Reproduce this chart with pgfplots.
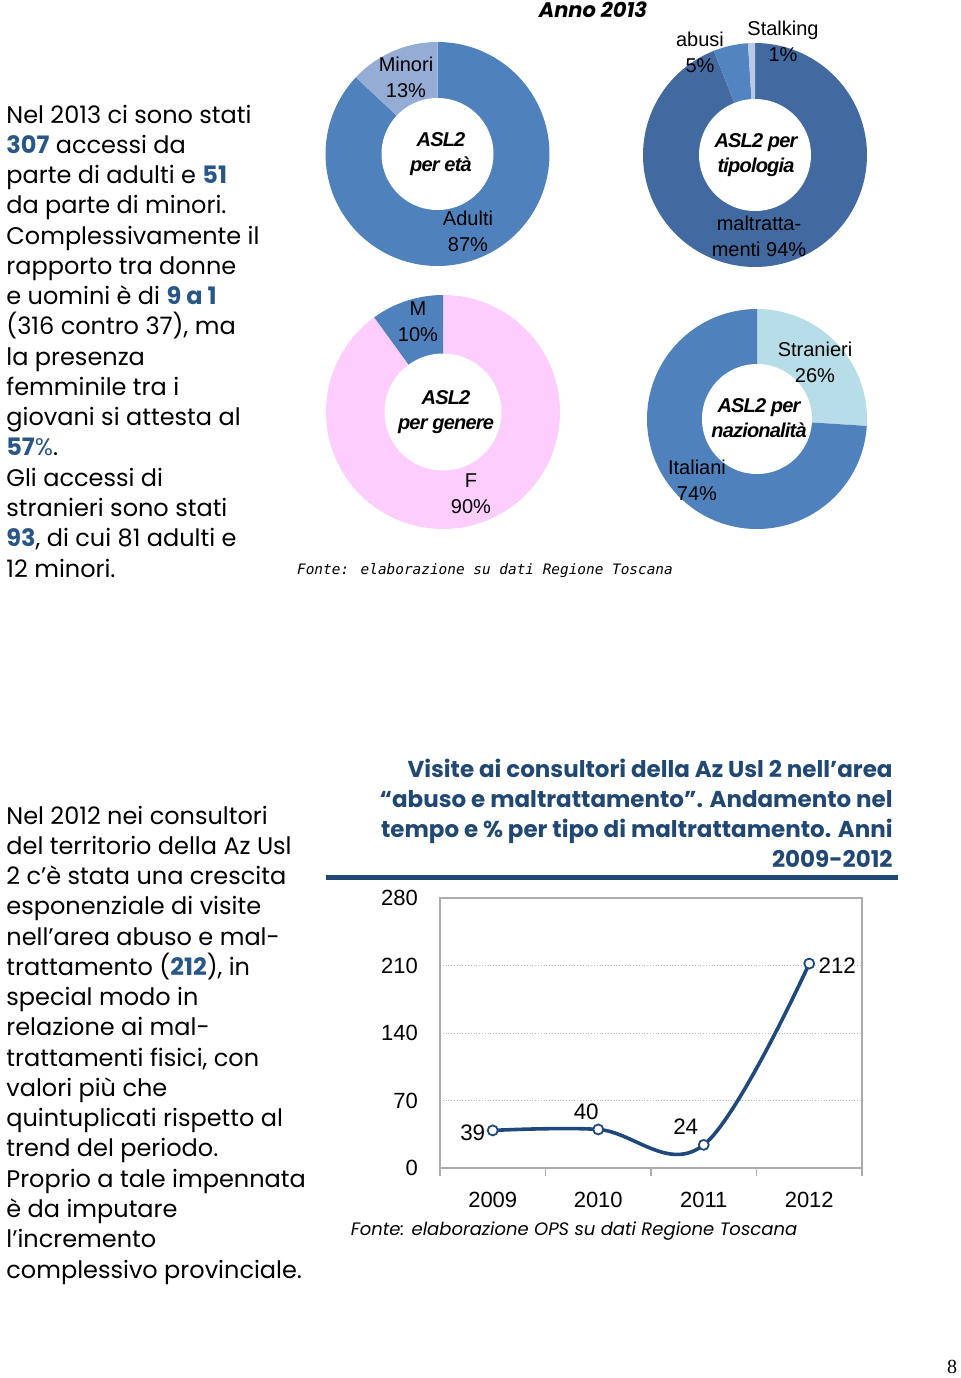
\documentclass[border=0pt]{standalone}
\usepackage{fontspec}
\usepackage{pgfplots}
\pgfplotsset{compat=1.18}
\setmainfont{Liberation Sans}
\newfontfamily\gothic{Poppins}
\newfontfamily\mono{DejaVu Sans Mono}
\newfontfamily\tight[LetterSpace=-4]{Liberation Sans}
\newfontfamily\serif{Liberation Serif}
\definecolor{numblue}{RGB}{40,86,134}
\definecolor{titleblue}{RGB}{33,72,115}
\definecolor{lineblue}{RGB}{31,73,125}
\definecolor{cA}{RGB}{79,129,189}
\definecolor{cMin}{RGB}{149,172,213}
\definecolor{cPink}{RGB}{253,205,253}
\definecolor{cMalt}{RGB}{66,106,160}
\definecolor{cAbu}{RGB}{82,132,192}
\definecolor{cSta}{RGB}{185,200,230}
\definecolor{cStr}{RGB}{183,221,232}
\newcommand\B[1]{\textbf{\color{numblue}#1}}
% slice between cumulative percentages #1 and #2 (clockwise from 12 o'clock)
\newcommand\slice[3]{%
  \pgfmathsetmacro\aA{90-3.6*#2}\pgfmathsetmacro\aB{90-3.6*#1}%
  \addplot[fill=#3,draw=none,domain=\aA:\aB,samples=150] ({cos(x)},{sin(x)}) -- (axis cs:0,0) -- cycle;}
\newcommand\hole{\addplot[fill=white,draw=none,domain=0:360,samples=150] ({0.5*cos(x)},{0.5*sin(x)});}
\pgfplotsset{donut/.style={anchor=center, hide axis, scale only axis, xmin=-1,xmax=1,ymin=-1,ymax=1, clip=false}}
\tikzset{lbl/.style={font=\fontsize{11.2}{13}\selectfont, inner sep=0}}
\begin{document}
\begin{tikzpicture}[x=0.5pt,y=0.5pt]
\useasboundingbox (0,0) rectangle (960,-1378);
% ---------- left paragraphs ----------
\begin{scope}[every node/.style={anchor=base west, inner sep=0, font=\gothic\fontsize{12}{15}\selectfont}]
\foreach \t [count=\i] in {{Nel 2013 ci sono stati},{\B{307} accessi da},{parte di adulti e \B{51}},{da parte di minori.},{Complessivamente il},{rapporto tra donne},{e uomini è di \B{9 a 1}},{(316 contro 37), ma},{la presenza},{femminile tra i},{giovani si attesta al},{\B{57}{\color{numblue}\%}.},{Gli accessi di},{stranieri sono stati},{\B{93}, di cui 81 adulti e},{12 minori.}}
  {\node at (6,{-(123+(\i-1)*30.27)}) {\t};}
\foreach \t [count=\i] in {{Nel 2012 nei consultori},{del territorio della Az Usl},{2 c’è stata una crescita},{esponenziale di visite},{nell’area abuso e mal-},{trattamento (\B{212}), in},{special modo in},{relazione ai mal-},{trattamenti fisici, con},{valori più che},{quintuplicati rispetto al},{trend del periodo.},{Proprio a tale impennata},{è da imputare},{l’incremento},{complessivo provinciale.}}
  {\node at (6,{-(824+(\i-1)*30.27)}) {\t};}
\end{scope}
% ---------- donuts (positions in pt = pixels/2) ----------
\begin{axis}[donut, at={(218.75pt,-77pt)}, width=112pt, height=112pt]
\slice{0}{87}{cA}
\slice{87}{100}{cMin}
\hole
\end{axis}
\begin{axis}[donut, at={(221.5pt,-206pt)}, width=117pt, height=117pt]
\slice{0}{90}{cPink}
\slice{90}{100}{cA}
\hole
\end{axis}
\begin{axis}[donut, at={(377.5pt,-77.5pt)}, width=112pt, height=112pt]
\slice{0}{94}{cMalt}
\slice{94}{99}{cAbu}
\slice{99}{100}{cSta}
\hole
\end{axis}
\begin{axis}[donut, at={(378.5pt,-209.5pt)}, width=110pt, height=110pt]
\slice{0}{26}{cStr}
\slice{26}{100}{cA}
\hole
\end{axis}
\begin{scope}[every node/.style={align=center, inner sep=0, font=\fontsize{10}{13}\selectfont}]
\node at (406,-77) {Minori\\13\%};
\node at (468,-231) {Adulti\\87\%};
\node at (418,-322) {M\\10\%};
\node at (471,-494) {F\\90\%};
\node at (700,-52) {abusi\\5\%};
\node at (783,-41) {Stalking\\1\%};
\node at (759,-236) {maltratta-\\menti 94\%};
\node at (815,-362) {Stranieri\\26\%};
\node at (697,-480) {Italiani\\74\%};
\end{scope}
\begin{scope}[every node/.style={align=center, inner sep=0, font=\tight\bfseries\itshape\fontsize{10}{12.5}\selectfont}]
\node at (441,-154) {ASL2\\per età};
\node at (446,-412) {ASL2\\per genere};
\node at (756,-155) {ASL2 per\\tipologia};
\node at (759,-418) {ASL2 per\\nazionalità};
\end{scope}
\node[font=\gothic\bfseries\itshape\fontsize{10.5}{12}\selectfont, inner sep=0] at (593,-10) {Anno 2013};
\node[font=\mono\itshape\fontsize{7.2}{9}\selectfont, inner sep=0] at (485,-571) {Fonte: elaborazione su dati Regione Toscana};
% ---------- line chart title ----------
\begin{scope}[every node/.style={anchor=base east, inner sep=0, font=\gothic\bfseries\fontsize{11.5}{13}\selectfont, text=titleblue}]
\node at (893,-777) {Visite ai consultori della Az Usl 2 nell’area};
\node at (893,-807) {“abuso e maltrattamento”. Andamento nel};
\node at (893,-837) {tempo e \% per tipo di maltrattamento. Anni};
\node at (893,-867) {2009-2012};
\end{scope}
\draw[line width=2.5pt, titleblue] (326,-877) -- (898,-877);
% ---------- line chart ----------
\begin{axis}[at={(220pt,-584pt)}, anchor=south west, scale only axis,
  width=211pt, height=135pt,
  xmin=-0.5, xmax=3.5, ymin=0, ymax=280,
  ytick={0,70,140,210,280},
  xtick={0,1,2,3}, xticklabels={2009,2010,2011,2012},
  minor xtick={-0.5,0.5,1.5,2.5,3.5},
  major tick length=0pt, minor tick length=4pt, tick align=outside, tick pos=left,
  axis line style={draw=gray!65, line width=0.6pt},
  minor tick style={draw=gray!65, line width=0.6pt},
  ymajorgrids, grid style={densely dotted, gray!55, line width=0.5pt},
  tick label style={font=\fontsize{11}{13}\selectfont},
  /pgf/number format/assume math mode=true,
  yticklabel style={xshift=-7.5pt},
  xticklabel style={yshift=-8.5pt},
  clip=false]
\addplot[smooth, tension=0.6, line width=1.8pt, color=lineblue, mark=*, mark size=2.5pt, mark options={fill=white, draw=lineblue, line width=0.9pt}]
  coordinates {(0,39) (1,40) (2,24) (3,212)};
\node[lbl, xshift=-10pt, yshift=-1.3pt] at (axis cs:0,39) {39};
\node[lbl, xshift=-6pt, yshift=9pt] at (axis cs:1,40) {40};
\node[lbl, xshift=-9pt, yshift=9pt] at (axis cs:2,24) {24};
\node[lbl, xshift=14pt, yshift=-1pt] at (axis cs:3,212) {212};
\end{axis}
\node[font=\gothic\itshape\fontsize{9}{11}\selectfont, inner sep=0] at (574,-1231) {Fonte: elaborazione OPS su dati Regione Toscana};
\node[font=\serif\fontsize{10}{12}\selectfont, inner sep=0] at (952,-1367) {8};
\end{tikzpicture}
\end{document}
